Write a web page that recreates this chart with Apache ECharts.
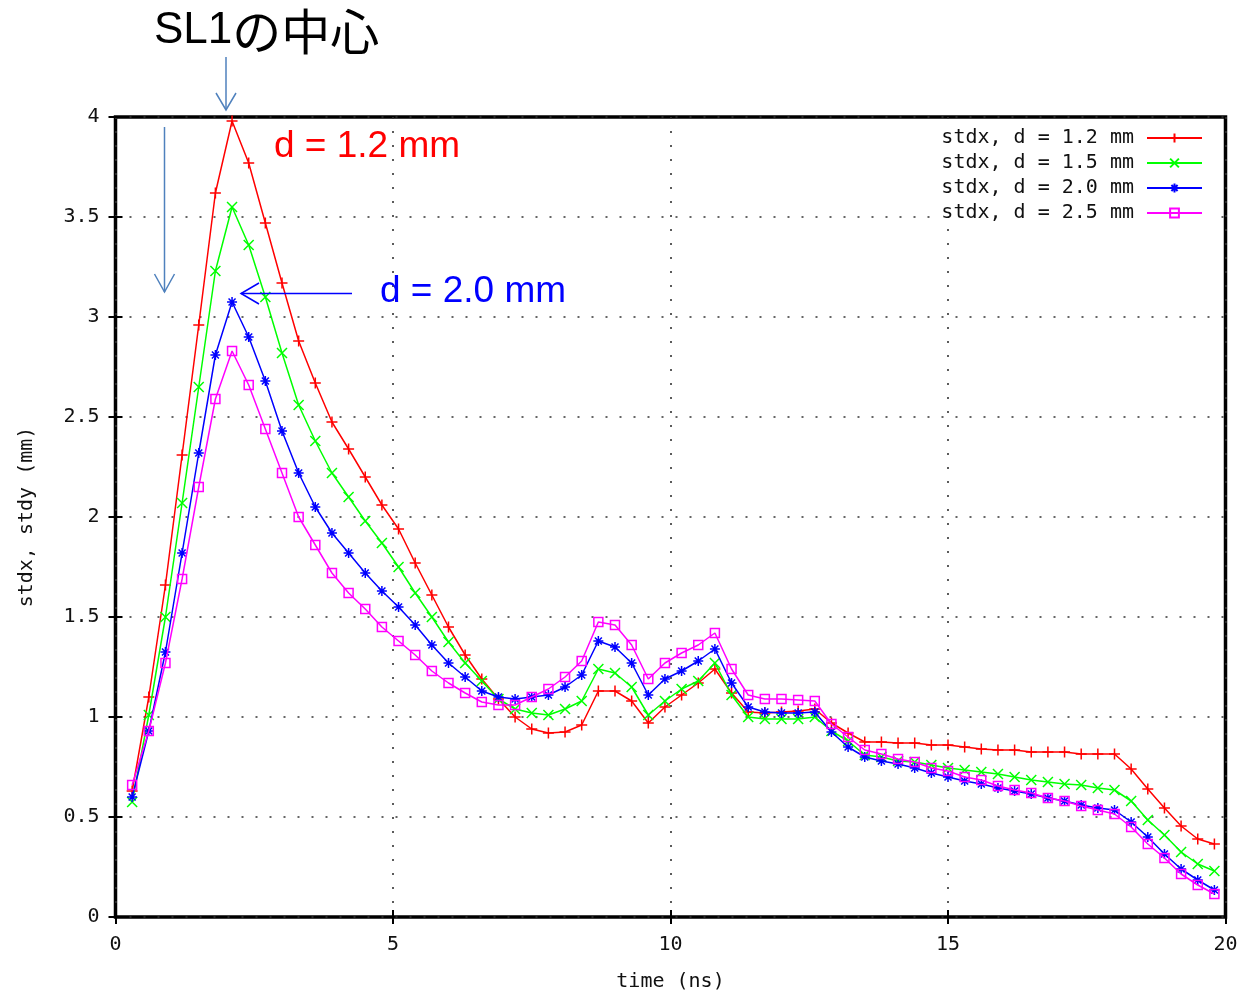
<!DOCTYPE html>
<html>
<head>
<meta charset="utf-8">
<script src="https://cdn.jsdelivr.net/npm/echarts@6/dist/echarts.min.js"></script>
<style>
html,body{margin:0;padding:0;background:#fff;}
#chart{width:1245px;height:991px;}
</style>
</head>
<body>
<div id="chart"></div>
<script>
// time (ns)
var time = [0.3,0.6,0.9,1.2,1.5,1.8,2.1,2.4,2.7,3.0,
            3.3,3.6,3.9,4.2,4.5,4.8,5.1,5.4,5.7,6.0,
            6.3,6.6,6.9,7.2,7.5,7.8,8.1,8.4,8.7,9.0,
            9.3,9.6,9.9,10.2,10.5,10.8,11.1,11.4,11.7,12.0,
            12.3,12.6,12.9,13.2,13.5,13.8,14.1,14.4,14.7,15.0,
            15.3,15.6,15.9,16.2,16.5,16.8,17.1,17.4,17.7,18.0,
            18.3,18.6,18.9,19.2,19.5,19.8];

// stdx for d = 1.2 mm
var d12 = [0.63,1.10,1.66,2.31,2.96,3.62,3.98,3.77,3.47,3.17,
           2.88,2.67,2.475,2.34,2.20,2.06,1.94,1.77,1.61,1.45,
           1.31,1.19,1.09,1.00,0.94,0.92,0.925,0.96,1.13,1.13,
           1.08,0.97,1.05,1.11,1.17,1.24,1.12,1.025,1.02,1.025,
           1.03,1.04,0.97,0.92,0.875,0.875,0.87,0.87,0.86,0.86,
           0.85,0.84,0.835,0.835,0.825,0.825,0.825,0.815,0.815,0.815,
           0.74,0.64,0.545,0.455,0.39,0.365];

// stdx for d = 1.5 mm
var d15 = [0.575,1.01,1.50,2.07,2.65,3.23,3.55,3.36,3.10,2.82,
           2.56,2.38,2.22,2.10,1.98,1.87,1.75,1.62,1.50,1.375,
           1.27,1.18,1.09,1.04,1.02,1.01,1.04,1.08,1.24,1.22,
           1.15,1.01,1.08,1.14,1.18,1.27,1.11,1.00,0.99,0.99,
           0.99,1.00,0.93,0.88,0.81,0.80,0.78,0.775,0.76,0.745,
           0.735,0.725,0.715,0.70,0.685,0.675,0.665,0.66,0.645,0.635,
           0.58,0.485,0.41,0.325,0.265,0.23];

// stdx for d = 2.0 mm
var d20 = [0.60,0.93,1.325,1.82,2.32,2.81,3.075,2.90,2.68,2.43,
           2.22,2.05,1.92,1.82,1.72,1.63,1.55,1.46,1.36,1.27,
           1.20,1.13,1.10,1.09,1.10,1.11,1.15,1.21,1.38,1.35,
           1.27,1.11,1.19,1.23,1.28,1.34,1.17,1.05,1.025,1.02,
           1.02,1.025,0.925,0.85,0.80,0.78,0.765,0.745,0.72,0.70,
           0.68,0.665,0.645,0.63,0.615,0.595,0.58,0.56,0.545,0.535,
           0.475,0.40,0.315,0.24,0.185,0.135];

// stdx for d = 2.5 mm
var d25 = [0.66,0.93,1.27,1.69,2.15,2.59,2.83,2.66,2.44,2.22,
           2.00,1.86,1.72,1.62,1.54,1.45,1.38,1.31,1.23,1.17,
           1.12,1.075,1.06,1.06,1.10,1.14,1.20,1.28,1.475,1.46,
           1.36,1.19,1.27,1.32,1.36,1.42,1.24,1.11,1.09,1.09,
           1.085,1.08,0.965,0.90,0.835,0.815,0.79,0.775,0.745,0.73,
           0.70,0.685,0.655,0.635,0.62,0.595,0.58,0.555,0.535,0.515,
           0.45,0.365,0.295,0.215,0.16,0.115];

var seriesNames = ['stdx, d = 1.2 mm','stdx, d = 1.5 mm','stdx, d = 2.0 mm','stdx, d = 2.5 mm'];
var seriesData = [d12, d15, d20, d25];
var seriesColors = ['#ff0000','#00ff00','#0000ff','#ff00ff'];
var seriesSymbols = [
  'path://M0,5L10,5M5,0L5,10',
  'path://M0,0L10,10M10,0L0,10',
  'path://M0,5L10,5M5,0L5,10M1.5,1.5L8.5,8.5M8.5,1.5L1.5,8.5',
  'path://M0,0L10,0L10,10L0,10Z'
];
var seriesSymbolSizes = [11, 10, 10, 9];

var xTicks = {min:0, max:20, interval:5};
var yTicks = {min:0, max:4, interval:0.5};

var mono = '"DejaVu Sans Mono", "Liberation Mono", monospace';

function pairs(arr){ return arr.map(function(v,i){ return [time[i], v]; }); }

var series = seriesData.map(function(arr, i){
  return {
    name: seriesNames[i],
    type: 'line',
    xAxisIndex: 0, yAxisIndex: 0,
    data: pairs(arr),
    symbol: seriesSymbols[i],
    symbolSize: seriesSymbolSizes[i],
    showAllSymbol: true,
    lineStyle: {color: seriesColors[i], width: 1.5},
    itemStyle: {color: 'rgba(0,0,0,0)', borderColor: seriesColors[i], borderWidth: 1.5},
    emphasis: {disabled: true},
    z: 3 + i
  };
});

var chart = echarts.init(document.getElementById('chart'), null, {renderer:'canvas'});

var gridDots = {show:true, lineStyle:{color:'#333', width:1.6, type:[2,12]}};
var tickStyle = {show:true, inside:true, length:7, lineStyle:{color:'#000', width:2}};

chart.setOption({
  animation: false,
  backgroundColor: '#fff',
  grid: {left:115.5, right:19.5, top:117, bottom:74, show:true, borderColor:'#000', borderWidth:3.5,
         backgroundColor:'transparent', outerBoundsMode:'none', containLabel:false},
  legend: {
    show: true,
    orient: 'vertical',
    right: 26,
    top: 124,
    align: 'right',
    itemWidth: 55,
    itemHeight: 11,
    itemGap: 5,
    padding: [4, 16, 4, 4],
    backgroundColor: '#fff',
    data: seriesNames,
    textStyle: {fontFamily: mono, fontSize: 20, color: '#111', padding:[0,8,0,0], lineHeight: 20},
    selectedMode: false
  },
  xAxis: [
    {type:'value', position:'bottom', min:xTicks.min, max:xTicks.max, interval:xTicks.interval,
     name:'time (ns)', nameLocation:'middle', nameGap:55,
     nameTextStyle:{fontFamily:mono, fontSize:20, color:'#111'},
     axisLine:{show:false}, axisTick:tickStyle,
     axisLabel:{fontFamily:mono, fontSize:20, color:'#111', margin:18},
     splitLine:gridDots},
    {type:'value', position:'top', min:xTicks.min, max:xTicks.max, interval:xTicks.interval,
     axisLine:{show:false}, axisTick:tickStyle, axisLabel:{show:false}, splitLine:{show:false}}
  ],
  yAxis: [
    {type:'value', position:'left', min:yTicks.min, max:yTicks.max, interval:yTicks.interval,
     name:'stdx, stdy (mm)', nameLocation:'middle', nameGap:79, nameRotate:90,
     nameTextStyle:{fontFamily:mono, fontSize:20, color:'#111'},
     axisLine:{show:false}, axisTick:tickStyle,
     axisLabel:{fontFamily:mono, fontSize:20, color:'#111', margin:16},
     splitLine:gridDots},
    {type:'value', position:'right', min:yTicks.min, max:yTicks.max, interval:yTicks.interval,
     axisLine:{show:false}, axisTick:tickStyle, axisLabel:{show:false}, splitLine:{show:false}}
  ],
  series: series,
  graphic: [
    {type:'text', z:100, style:{x:154, y:31, text:'{a|SL1}{b|の中心}', fill:'#000', verticalAlign:'middle',
      rich:{a:{font:'44px "Liberation Sans", Arial, sans-serif', fill:'#000'},
            b:{font:'49px "Noto Sans CJK JP", sans-serif', fill:'#000'}}}},
    {type:'text', z:100, style:{x:274, y:147, text:'d = 1.2 mm', font:'37px "Liberation Sans", Arial, sans-serif', fill:'#ff0000', verticalAlign:'middle'}},
    {type:'text', z:100, style:{x:380, y:292, text:'d = 2.0 mm', font:'37px "Liberation Sans", Arial, sans-serif', fill:'#0000ff', verticalAlign:'middle'}},
    {type:'polyline', z:100, shape:{points:[[226,57],[226,110]]}, style:{stroke:'#4f81bd', lineWidth:1.5, fill:null}},
    {type:'polyline', z:100, shape:{points:[[216,93],[226,110],[236,93]]}, style:{stroke:'#4f81bd', lineWidth:1.5, fill:null}},
    {type:'polyline', z:100, shape:{points:[[164.5,127],[164.5,292]]}, style:{stroke:'#4f81bd', lineWidth:1.5, fill:null}},
    {type:'polyline', z:100, shape:{points:[[154.5,274],[164.5,292],[174.5,274]]}, style:{stroke:'#4f81bd', lineWidth:1.5, fill:null}},
    {type:'polyline', z:100, shape:{points:[[352,293.5],[241,293.5]]}, style:{stroke:'#0000ff', lineWidth:1.5, fill:null}},
    {type:'polyline', z:100, shape:{points:[[259,283],[241,293.5],[259,304]]}, style:{stroke:'#0000ff', lineWidth:1.5, fill:null}}
  ]
});
</script>
</body>
</html>
